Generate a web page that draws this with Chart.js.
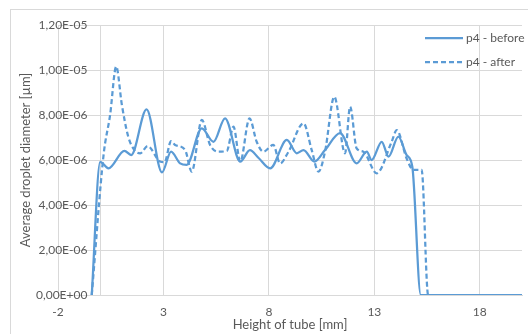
<!DOCTYPE html>
<html>
<head>
<meta charset="utf-8">
<title>Average droplet diameter</title>
<script src="https://cdn.jsdelivr.net/npm/chart.js@4/dist/chart.umd.min.js"></script>
<style>
    html, body { margin: 0; padding: 0; background: #fff; }
    #wrap { width: 528px; height: 334px; }
</style>
</head>
<body>
<div id="wrap"><canvas id="dropChart" width="528" height="334"></canvas></div>
<script>
// ===== DATA ===== //
const beforeX = [-0.4, 0.0, 0.39, 1.15, 1.47, 2.2, 2.93, 3.36, 3.79, 4.1, 4.82, 5.37, 5.92, 6.64, 7.1, 7.5, 8.06,
    8.85, 9.32, 9.64, 10.16, 10.66, 11.37, 12.16, 12.64, 12.87, 13.35, 13.67, 14.14, 14.53, 14.8, 15.2, 20];
const beforeY = [0, 5.92e-6, 5.63e-6, 6.41e-6, 6.22e-6, 8.25e-6, 5.45e-6, 6.37e-6, 5.85e-6, 5.78e-6, 7.41e-6, 6.81e-6,
    7.85e-6, 5.93e-6, 6.44e-6, 6.1e-6, 5.63e-6, 6.89e-6, 6.3e-6, 6.44e-6, 5.93e-6, 6.44e-6, 7.2e-6, 5.85e-6,
    6.37e-6, 6.0e-6, 6.81e-6, 6.15e-6, 7.04e-6, 6.22e-6, 5.7e-6, 0, 0];

const afterX = [-0.4, 0.16, 0.47, 0.76, 1.03, 1.33, 1.66, 1.9, 2.25, 2.84, 3.05, 3.36, 3.55, 4.03, 4.34, 4.82, 5.21,
    5.61, 6.0, 6.32, 6.64, 7.08, 7.42, 7.74, 8.21, 8.53, 8.93, 9.64, 10.03, 10.35, 10.66, 11.1, 11.61, 11.85,
    12.16, 12.48, 13.11, 13.82, 14.06, 14.53, 14.85, 15.24, 15.55, 20];
const afterY = [0, 6.22e-6, 8.0e-6, 10.15e-6, 8.44e-6, 7.04e-6, 6.4e-6, 6.3e-6, 6.62e-6, 5.93e-6, 5.9e-6, 6.84e-6,
    6.67e-6, 6.44e-6, 5.48e-6, 7.78e-6, 6.67e-6, 6.37e-6, 6.4e-6, 7.48e-6, 5.93e-6, 7.85e-6, 6.81e-6, 6.37e-6,
    6.67e-6, 5.85e-6, 6.37e-6, 7.63e-6, 6.44e-6, 5.48e-6, 6.37e-6, 8.81e-6, 6.3e-6, 8.37e-6, 6.52e-6, 6.37e-6,
    5.41e-6, 6.81e-6, 7.33e-6, 6.07e-6, 5.56e-6, 5.56e-6, 0, 0];

const xTicks = [-2, 3, 8, 13, 18];
const yTicks = [0, 2e-6, 4e-6, 6e-6, 8e-6, 10e-6, 12e-6];
const yAxisCrossX = 0; // vertical axis line sits at x = 0

const seriesNames = ['p4 - before', 'p4 - after'];

// ===== STYLE ===== //
const LINE_BLUE = '#5b9bd5';
const GRID = '#d9d9d9';
const TEXT = '#595959';
const FONT = 'Lato, "Open Sans", sans-serif';

function toPoints(xs, ys) {
    return xs.map((x, i) => ({ x: x, y: ys[i] }));
}

// 1,20E-05 style labels (comma decimal)
function sciLabel(v) {
    if (v === 0) return '0,00E+00';
    let e = Math.floor(Math.log10(Math.abs(v)) + 1e-9);
    let m = v / Math.pow(10, e);
    let ms = m.toFixed(2);
    if (ms === '10.00') { e += 1; ms = '1.00'; }
    return ms.replace('.', ',') + 'E' + (e < 0 ? '-' : '+') + String(Math.abs(e)).padStart(2, '0');
}

// ===== EXTRA DRAWING: frame + legend ===== //
const decorPlugin = {
    id: 'decor',
    beforeDraw(chart) {
        const ctx = chart.ctx;
        ctx.save();
        ctx.fillStyle = '#fff';
        ctx.fillRect(0, 0, chart.width, chart.height);
        ctx.strokeStyle = GRID;
        ctx.lineWidth = 1;
        ctx.strokeRect(10.5, 9.5, chart.width, chart.height);
        ctx.restore();
    },
    afterDraw(chart) {
        const ctx = chart.ctx;
        ctx.save();
        const rows = [38, 62];
        chart.data.datasets.forEach((ds, i) => {
            const y = rows[i];
            ctx.strokeStyle = ds.borderColor;
            ctx.lineWidth = ds.borderWidth;
            ctx.setLineDash(ds.borderDash || []);
            ctx.beginPath();
            ctx.moveTo(425, y);
            ctx.lineTo(463, y);
            ctx.stroke();
            ctx.setLineDash([]);
            ctx.fillStyle = TEXT;
            ctx.font = '12px ' + FONT;
            ctx.textAlign = 'left';
            ctx.textBaseline = 'middle';
            ctx.fillText(ds.label, 466, y);
        });
        ctx.restore();
    }
};

// ===== CHART ===== //
const ctx = document.getElementById('dropChart').getContext('2d');
const dropChart = new Chart(ctx, {
    type: 'scatter',
    data: {
        datasets: [{
            label: seriesNames[0],
            data: toPoints(beforeX, beforeY),
            showLine: true,
            borderColor: LINE_BLUE,
            borderWidth: 2.25,
            pointRadius: 0,
            cubicInterpolationMode: 'monotone'
        }, {
            label: seriesNames[1],
            data: toPoints(afterX, afterY),
            showLine: true,
            borderColor: LINE_BLUE,
            borderWidth: 2.25,
            borderDash: [5, 3],
            pointRadius: 0,
            cubicInterpolationMode: 'monotone'
        }]
    },
    options: {
        responsive: false,
        animation: false,
        layout: { padding: { left: 0, top: 25, right: 6, bottom: 0 } },
        plugins: {
            legend: { display: false },
            tooltip: { enabled: false }
        },
        scales: {
            x: {
                type: 'linear',
                position: 'bottom',
                min: -2,
                max: 20,
                afterBuildTicks: s => {
                    s.ticks = xTicks.concat([yAxisCrossX]).map(v => ({ value: v }));
                },
                afterFit: s => { s.height = 39; },
                grid: { color: GRID, lineWidth: 1, drawTicks: false },
                border: { color: GRID },
                ticks: {
                    color: TEXT,
                    font: { family: FONT, size: 12 },
                    padding: 10,
                    maxRotation: 0,
                    autoSkip: false,
                    callback: v => (xTicks.includes(v) ? String(v) : '')
                },
                title: {
                    display: true,
                    text: 'Height of tube [mm]',
                    color: TEXT,
                    font: { family: FONT, size: 13 },
                    padding: { top: 0, bottom: 1 }
                }
            },
            y: {
                type: 'linear',
                position: 'left',
                min: 0,
                max: 1.2e-5,
                afterBuildTicks: s => { s.ticks = yTicks.map(v => ({ value: v })); },
                afterFit: s => { s.width = 58; },
                grid: { color: GRID, lineWidth: 1, drawTicks: false },
                border: { display: false },
                ticks: {
                    color: TEXT,
                    font: { family: FONT, size: 12 },
                    // labels sit just left of the x = 0 axis line, inside the plot
                    mirror: true,
                    crossAlign: 'far',
                    padding: -22,
                    callback: v => sciLabel(v)
                },
                title: {
                    display: true,
                    text: 'Average droplet diameter [µm]',
                    color: TEXT,
                    font: { family: FONT, size: 13 },
                    padding: 18
                }
            }
        }
    },
    plugins: [decorPlugin]
});
</script>
</body>
</html>
